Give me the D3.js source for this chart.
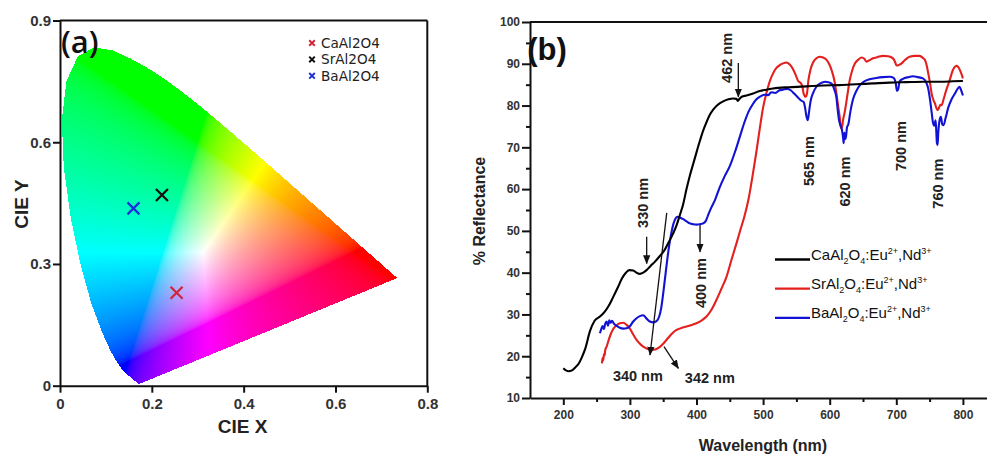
<!DOCTYPE html>
<html><head><meta charset="utf-8">
<script src="https://cdn.jsdelivr.net/npm/d3@7"></script>
<style>body{margin:0;background:#fff}svg{display:block}</style>
</head><body>
<svg id="chart" width="987" height="455"></svg>
<script>
// ---------- Panel (a) data: CIE 1931 spectral locus ----------
const locusX = [0.1741,0.1733,0.1714,0.1689,0.1644,0.1566,0.1440,0.1355,0.1241,0.1096,0.0913,0.0687,0.0454,0.0235,0.0082,0.0039,0.0139,0.0389,0.0743,0.1142,0.1547,0.1929,0.2296,0.2658,0.3016,0.3373,0.3731,0.4087,0.4441,0.4788,0.5125,0.5448,0.5752,0.6029,0.6270,0.6482,0.6658,0.6915,0.7079,0.7190,0.7260,0.7300,0.7334,0.7347];
const locusY = [0.0050,0.0048,0.0051,0.0069,0.0109,0.0177,0.0297,0.0399,0.0578,0.0868,0.1327,0.2007,0.2950,0.4127,0.5384,0.6548,0.7502,0.8120,0.8338,0.8262,0.8059,0.7816,0.7543,0.7243,0.6923,0.6589,0.6245,0.5896,0.5547,0.5202,0.4866,0.4544,0.4242,0.3965,0.3725,0.3514,0.3340,0.3083,0.2920,0.2809,0.2740,0.2700,0.2666,0.2653];
const cieSamples = ["CaAl2O4","SrAl2O4","BaAl2O4"];
const cieXs = [0.254, 0.222, 0.160];
const cieYs = [0.229, 0.470, 0.437];
const cieColors = ["#d02638","#111111","#1f2fd8"];
const cieXTicks = [0,0.2,0.4,0.6,0.8];
const cieYTicks = [0,0.3,0.6,0.9];

// ---------- Panel (b) data: reflectance spectra ----------
const caWl = [200,204,208,213,218,223,228,233,240,247,255,262,268,275,282,288,294,299,305,310,315,320,325,331,338,345,352,358,365,370,375,380,385,390,395,400,405,410,415,420,425,432,440,448,455,460,462,464,468,475,485,495,505,515,540,565,590,615,640,665,690,715,740,765,785,800];
const caR  = [17.1,16.6,16.4,16.6,17.3,18.2,19.8,21.8,26.0,28.5,29.5,30.6,32.0,34.2,36.5,38.6,40.0,40.6,40.5,40.0,39.7,40.0,40.6,41.6,42.7,44.0,45.4,47.2,49.4,51.3,53.8,56.4,60.0,63.2,66.0,68.8,71.5,74.0,76.0,77.8,79.0,80.2,81.0,81.5,81.7,81.6,81.1,81.5,82.1,82.4,82.9,83.5,83.8,84.1,84.4,84.6,84.8,84.9,85.1,85.3,85.5,85.6,85.7,85.7,85.8,85.9];
const srWl = [258,259,260,261,262,263,265,268,271,275,280,285,290,295,300,305,310,315,320,326,332,338,344,350,357,363,370,378,385,393,400,408,415,422,430,437,445,452,460,466,472,478,484,490,495,500,505,510,515,520,525,530,535,540,545,549,553,556,559,561,564,566,568,571,575,580,585,590,595,599,603,607,610,613,615,617,619,620,622,624,627,630,634,638,643,648,652,655,659,665,672,680,688,695,698,700,702,705,708,713,720,728,735,740,743,745,748,751,753,756,758,760,762,764,766,768,771,775,780,785,788,791,794,796,798,800];
const srR  = [18.3,19.6,19.0,20.5,20.2,21.5,22.3,23.8,25.2,26.5,27.4,27.9,28.0,27.5,26.6,25.2,23.9,23.0,22.3,21.8,21.5,21.6,22.1,23.0,24.3,25.4,26.3,26.8,27.1,27.5,27.9,28.6,29.5,31.0,33.5,36.0,39.0,42.8,47.0,50.3,53.5,57.5,63.0,69.0,74.5,79.5,83.0,85.8,87.7,89.0,89.7,90.1,90.3,89.8,88.7,87.3,85.8,85.5,84.5,82.8,82.1,83.0,86.0,88.5,90.3,91.3,91.7,91.5,91.0,90.0,88.4,86.0,83.0,79.5,77.3,74.5,75.2,76.5,78.0,79.8,83.0,86.0,88.5,90.1,91.0,91.5,91.2,90.5,90.8,91.3,91.6,91.9,91.8,91.3,90.5,89.7,89.6,89.8,90.1,90.9,91.7,91.9,91.9,91.4,90.9,90.0,87.7,85.0,82.9,81.2,80.5,79.5,78.9,79.4,80.2,80.1,81.5,83.7,86.0,88.5,89.3,89.5,89.0,88.3,87.5,86.5];
const baWl = [255,257,259,261,263,265,267,269,271,273,276,280,285,290,295,300,305,310,315,320,325,330,335,340,344,347,350,353,356,359,362,365,368,371,375,380,385,390,395,400,405,410,414,418,422,428,435,442,450,458,465,472,478,484,490,496,502,508,512,518,524,530,536,542,547,552,557,561,563,565,567,569,571,575,580,586,593,598,603,607,610,612,614,616,618,620,621,622,624,626,628,631,635,640,646,652,660,670,680,690,696,699,701,703,705,710,718,725,732,740,745,748,751,753,755,757,759,760,761,762,763,765,767,769,771,774,778,783,788,792,795,797,800];
const baR  = [25.5,26.5,27.2,26.5,27.8,28.3,27.3,28.6,28.0,28.5,27.8,27.3,26.8,26.6,26.7,27.2,28.3,29.1,29.6,29.8,29.0,28.3,28.1,28.4,29.5,31.5,35.0,39.0,43.0,46.5,49.3,51.5,52.8,53.4,53.2,52.8,52.3,51.8,51.6,51.5,51.6,51.8,52.4,54.0,55.5,57.5,60.5,63.0,65.5,69.0,72.5,76.0,78.5,80.2,81.5,82.2,82.6,82.5,83.2,83.0,83.6,83.8,84.0,83.6,82.8,82.0,81.2,80.8,79.5,77.5,76.5,78.5,80.8,83.0,84.5,85.3,85.7,85.6,85.2,83.8,82.0,79.0,76.5,75.3,74.5,72.5,71.0,73.5,72.0,74.8,75.5,78.5,81.5,83.5,85.0,85.8,86.3,86.6,86.8,86.9,86.6,85.5,83.5,84.0,85.8,86.4,86.8,87.0,86.8,86.5,85.5,84.0,81.0,78.5,76.0,75.2,76.5,74.0,71.0,70.6,73.5,76.5,77.3,75.5,75.3,77.0,79.5,81.5,82.9,84.0,84.5,83.8,82.4];
const seriesNames = ["Ca","Sr","Ba"];
const seriesColors = ["#000000","#e3201e","#1212d4"];
const xTicksB = [200,300,400,500,600,700,800];
const xMinorB = [250,350,450,550,650,750,850];
const yTicksB = [10,20,30,40,50,60,70,80,90,100];
const yMinorB = [15,25,35,45,55,65,75,85,95];
// annotations: label, text position (wavelength, %R), rotated?, arrow from/to
const annLabels = ["462 nm","330 nm","400 nm","340 nm","342 nm","565 nm","620 nm","700 nm","760 nm"];
const annTextPos = [[446,91.4],[319.7,56.7],[406.8,37.5],[312,15.3],[420,14.9],[568.9,66.7],[623,61.8],[707,70.3],[761.9,61.3]];
const annRotated = [true,true,true,false,false,true,true,true,true];
const annArrows = [[[462.8,90.2],[462.8,82.1]],[[325.2,48.6],[325.2,42.2]],[[405.3,51.4],[405.3,45]],[[355.3,54.3],[330.2,20.3]],[[351.2,22.3],[372.7,17.1]],null,null,null,null];

const svg = d3.select("#chart");
const FONT = "'Liberation Sans', Arial, sans-serif";

// ================= Panel (a) =================
const xa = d3.scaleLinear().domain([0,0.8]).range([60,427.3]);
const ya = d3.scaleLinear().domain([0,0.9]).range([385.7,20.5]);
const ga = svg.append("g");

// colour fill of the horseshoe
(function(){
  const x0 = Math.floor(xa.range()[0]), x1 = Math.ceil(xa.range()[1]);
  const y0 = Math.floor(ya.range()[1]), y1 = Math.ceil(ya.range()[0]);
  const W = x1-x0, H = y1-y0;
  const cv = document.createElement("canvas"); cv.width=W; cv.height=H;
  const ctx = cv.getContext("2d"); const img = ctx.createImageData(W,H);
  const poly = locusX.map((x,i)=>[xa(x), ya(locusY[i])]);
  const gam = v => v<=0.0031308 ? 12.92*v : 1.055*Math.pow(v,1/2.4)-0.055;
  for(let j=0;j<H;j++){
    for(let i=0;i<W;i++){
      const px=x0+i+0.5, py=y0+j+0.5;
      if(!d3.polygonContains(poly,[px,py])) continue;
      const cx=xa.invert(px), cy=Math.max(ya.invert(py),0.002);
      const X=cx/cy, Y=1, Z=(1-cx-cy)/cy;
      let r= 3.2406*X-1.5372*Y-0.4986*Z;
      let g=-0.9689*X+1.8758*Y+0.0415*Z;
      let b= 0.0557*X-0.2040*Y+1.0570*Z;
      r=Math.max(r,0); g=Math.max(g,0); b=Math.max(b,0);
      const m=Math.max(r,g,b)||1;
      const k=(j*W+i)*4;
      img.data[k]=255*gam(r/m); img.data[k+1]=255*gam(g/m); img.data[k+2]=255*gam(b/m); img.data[k+3]=255;
    }
  }
  ctx.putImageData(img,0,0);
  ga.append("image").attr("x",x0).attr("y",y0).attr("width",W).attr("height",H)
    .attr("href",cv.toDataURL());
})();

const fmtA = d => d===0 ? "0" : d3.format(".1f")(d);
const axA = ga.append("g").attr("transform",`translate(0,${ya(0)})`)
  .call(d3.axisBottom(xa).tickValues(cieXTicks).tickFormat(fmtA).tickSize(7).tickSizeOuter(0).tickPadding(6));
const ayA = ga.append("g").attr("transform",`translate(${xa(0)},0)`)
  .call(d3.axisLeft(ya).tickValues(cieYTicks).tickFormat(fmtA).tickSize(7).tickSizeOuter(0).tickPadding(2));
[axA,ayA].forEach(a=>{
  a.selectAll("path,line").attr("stroke","#111").attr("stroke-width",2);
  a.selectAll("text").attr("font-family",FONT).attr("font-weight","bold").attr("font-size",15).attr("fill","#333");
});
ga.append("line").attr("x1",xa(0)).attr("x2",xa(0.8)).attr("y1",ya(0.9)).attr("y2",ya(0.9)).attr("stroke","#111").attr("stroke-width",2);
ga.append("line").attr("x1",xa(0.8)).attr("x2",xa(0.8)).attr("y1",ya(0.9)).attr("y2",ya(0)).attr("stroke","#111").attr("stroke-width",2);

// markers
const cross = (s)=>`M${-s},${-s}L${s},${s}M${-s},${s}L${s},${-s}`;
ga.selectAll("path.mk").data(cieSamples).join("path").attr("class","mk")
  .attr("transform",(d,i)=>`translate(${xa(cieXs[i])},${ya(cieYs[i])})`)
  .attr("d",cross(6)).attr("stroke",(d,i)=>cieColors[i]).attr("stroke-width",2.3).attr("fill","none");
// legend (a)
const lgA = ga.append("g");
cieSamples.forEach((s,i)=>{
  const y = 43 + i*16.4;
  lgA.append("path").attr("transform",`translate(312,${y})`).attr("d",cross(2.8))
    .attr("stroke",cieColors[i]).attr("stroke-width",2).attr("fill","none");
  lgA.append("text").attr("x",321).attr("y",y).attr("dy","0.36em").attr("font-family","'DejaVu Sans', sans-serif")
    .attr("font-size",13.6).attr("fill","#222").text(s);
});
ga.append("text").attr("x",61).attr("y",53).attr("font-family","'Open Sans', sans-serif").attr("font-weight",600).attr("font-size",31).attr("fill","#111").text("(a)");
ga.append("text").attr("x",242.5).attr("y",433).attr("text-anchor","middle").attr("font-family",FONT).attr("font-weight","bold").attr("font-size",19).attr("fill","#222").text("CIE X");
ga.append("text").attr("transform","translate(28,204) rotate(-90)").attr("text-anchor","middle").attr("font-family",FONT).attr("font-weight","bold").attr("font-size",19).attr("fill","#222").text("CIE Y");

// ================= Panel (b) =================
const xb = d3.scaleLinear().domain([150,870]).range([530,530+720*0.666]);
const yb = d3.scaleLinear().domain([10,100]).range([398,22]);
const gb = svg.append("g");

const axB = gb.append("g").attr("transform",`translate(0,${yb(10)})`)
  .call(d3.axisBottom(xb).tickValues(xTicksB).tickSize(7).tickSizeOuter(0).tickPadding(5));
const axBm = gb.append("g").attr("transform",`translate(0,${yb(10)})`)
  .call(d3.axisBottom(xb).tickValues(xMinorB).tickSize(4).tickFormat(""));
const ayB = gb.append("g").attr("transform",`translate(${xb(150)},0)`)
  .call(d3.axisLeft(yb).tickValues(yTicksB).tickSize(8).tickSizeOuter(0).tickPadding(2));
const ayBm = gb.append("g").attr("transform",`translate(${xb(150)},0)`)
  .call(d3.axisLeft(yb).tickValues(yMinorB).tickSize(4).tickFormat(""));
axBm.select(".domain").remove(); ayBm.select(".domain").remove();
[axB,axBm,ayB,ayBm].forEach(a=>{
  a.selectAll("path,line").attr("stroke","#111").attr("stroke-width",2);
  a.selectAll("text").attr("font-family",FONT).attr("font-weight","bold").attr("font-size",12).attr("fill","#333");
});
gb.append("line").attr("x1",xb(150)).attr("x2",xb(870)).attr("y1",yb(100)).attr("y2",yb(100)).attr("stroke","#111").attr("stroke-width",2.2);
gb.append("line").attr("x1",xb(870)).attr("x2",xb(870)).attr("y1",yb(100)).attr("y2",yb(10)).attr("stroke","#111").attr("stroke-width",2.2);

const seriesData = [
  caWl.map((w,i)=>[w,caR[i]]),
  srWl.map((w,i)=>[w,srR[i]]),
  baWl.map((w,i)=>[w,baR[i]])
];
const lineGen = d3.line().x(d=>xb(d[0])).y(d=>yb(d[1])).curve(d3.curveMonotoneX);
[1,2,0].forEach(k=>{
  gb.append("path").datum(seriesData[k]).attr("d",lineGen).attr("fill","none")
    .attr("stroke",seriesColors[k]).attr("stroke-width",2.1).attr("stroke-linejoin","round");
});

// annotations
const defs = svg.append("defs");
defs.append("marker").attr("id","ah").attr("viewBox","0 0 10 10").attr("refX",9).attr("refY",5)
  .attr("markerWidth",7).attr("markerHeight",7).attr("orient","auto")
  .append("path").attr("d","M0,1L10,5L0,9Z").attr("fill","#111");
annLabels.forEach((t,i)=>{
  const [w,r] = annTextPos[i];
  const tx = gb.append("text").attr("font-family",FONT).attr("font-weight","bold").attr("font-size",14.5)
    .attr("fill","#222").attr("text-anchor","middle").attr("dominant-baseline","central").text(t);
  if(annRotated[i]) tx.attr("transform",`translate(${xb(w)},${yb(r)}) rotate(-90)`);
  else tx.attr("x",xb(w)).attr("y",yb(r));
  const ar = annArrows[i];
  if(ar){
    gb.append("line").attr("x1",xb(ar[0][0])).attr("y1",yb(ar[0][1])).attr("x2",xb(ar[1][0])).attr("y2",yb(ar[1][1]))
      .attr("stroke","#111").attr("stroke-width",1.3).attr("marker-end","url(#ah)");
  }
});

// legend (b)
const lgB = gb.append("g");
seriesNames.forEach((n,i)=>{
  const y = 259.5 + i*29.2;
  lgB.append("line").attr("x1",775).attr("x2",810).attr("y1",y).attr("y2",y).attr("stroke",seriesColors[i]).attr("stroke-width",2.3);
  const t = lgB.append("text").attr("x",811).attr("y",y).attr("dy","0.36em").attr("font-family",FONT).attr("font-size",15).attr("fill","#111");
  const parts = [[n+"Al",0],["2",1],["O",0],["4",1],[":Eu",0],["2+",2],[",Nd",0],["3+",2]];
  let cur = 0;
  parts.forEach(([s,type])=>{
    const target = type===1 ? 4 : type===2 ? -6 : 0;
    t.append("tspan").attr("dy",target-cur).attr("font-size",type?9:15).text(s);
    cur = target;
  });
});

gb.append("text").attr("x",547).attr("y",60).attr("text-anchor","middle").attr("font-family",FONT).attr("font-weight","bold").attr("font-size",31).attr("fill","#111").text("(b)");
gb.append("text").attr("x",763).attr("y",451).attr("text-anchor","middle").attr("font-family",FONT).attr("font-weight","bold").attr("font-size",16).attr("fill","#222").text("Wavelength (nm)");
gb.append("text").attr("transform","translate(485,211) rotate(-90)").attr("text-anchor","middle").attr("font-family",FONT).attr("font-weight","bold").attr("font-size",16).attr("fill","#222").text("% Reflectance");
</script>
</body></html>
